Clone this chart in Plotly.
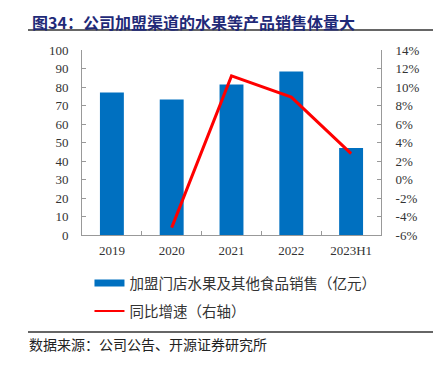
import plotly.graph_objects as go

categories = ["2019", "2020", "2021", "2022", "2023H1"]
sales = [77.0, 73.3, 81.4, 88.4, 47.0]
growth = [None, -5.2, 11.2, 8.9, 2.8]
left_ticks = list(range(0, 101, 10))
right_ticks = list(range(-6, 15, 2))

bar_name = "加盟门店水果及其他食品销售（亿元）"
line_name = "同比增速（右轴）"
title_text = "图34：公司加盟渠道的水果等产品销售体量大"
source_text = "数据来源：公司公告、开源证券研究所"

blue = "#0070C0"
red = "#FF0000"
serif = "Liberation Serif"
cjk = "Noto Sans CJK SC"

# page body has an 8px margin; plot area in figure coords
OFF = 8
L, R, T, B = 74, 68, 42, 145
W, H = 441, 372
PW, PH = W - L - R, H - T - B


def px(xs):
    return (xs - OFF - L) / PW


def py(ys):
    return 1 - (ys - OFF - T) / PH


fig = go.Figure()
fig.add_trace(go.Bar(x=categories, y=sales, marker=dict(color=blue, line=dict(width=0)),
                     showlegend=False, yaxis="y"))
fig.add_trace(go.Scatter(x=categories, y=growth, mode="lines", line=dict(color=red, width=3),
                         showlegend=False, yaxis="y2"))
# legend entries
fig.add_trace(go.Scatter(x=[None], y=[None], mode="lines", line=dict(color=blue, width=7),
                         name=bar_name, legendgroup="a", yaxis="y"))
fig.add_trace(go.Scatter(x=[None], y=[None], mode="lines", line=dict(color=red, width=2),
                         name=line_name, legendgroup="b", yaxis="y2"))

axis_common = dict(showline=True, linecolor="#999999", linewidth=1, ticks="inside", ticklen=4,
                   tickcolor="#999999", tickfont=dict(family=serif, size=13, color="#333333"),
                   showgrid=False, zeroline=False)

fig.update_layout(
    width=W, height=H,
    margin=dict(l=L, r=R, t=T, b=B),
    paper_bgcolor="white", plot_bgcolor="white",
    bargap=0.6,
    font=dict(family=serif, size=12, color="#333333"),
    xaxis=dict(type="category", tickson="boundaries", ticklabelstandoff=3, **axis_common),
    yaxis=dict(range=[0, 100], tickvals=left_ticks, ticklabelstandoff=10,
               ticklabeloverflow="allow", **axis_common),
    yaxis2=dict(range=[-6, 14], tickvals=right_ticks, ticktext=[f"{v}%" for v in right_ticks],
                overlaying="y", side="right", ticklabelstandoff=11,
                ticklabeloverflow="allow", **axis_common),
    legend=dict(x=0.025, y=-0.174, xanchor="left", yanchor="top", orientation="v",
                traceorder="grouped", tracegroupgap=6, itemwidth=30,
                font=dict(family=cjk, size=14.5, color="#333333"), bgcolor="rgba(0,0,0,0)"),
    annotations=[
        dict(text=f"<b>{title_text}</b>", xref="paper", yref="paper", x=px(30),
             y=py(OFF), xanchor="left", yanchor="top", showarrow=False,
             font=dict(family=cjk, size=16, color="#1F2A78")),
        dict(text=source_text, xref="paper", yref="paper", x=px(27),
             y=py(344), xanchor="left", yanchor="middle", showarrow=False,
             font=dict(family=cjk, size=14, color="#222222")),
    ],
    shapes=[
        dict(type="line", xref="paper", yref="paper", x0=px(28), x1=px(441),
             y0=py(30), y1=py(30), line=dict(color="#333333", width=1.5)),
        dict(type="line", xref="paper", yref="paper", x0=px(28), x1=px(441),
             y0=py(332), y1=py(332), line=dict(color="#333333", width=1.5)),
    ],
)

fig.write_html("out.html")
